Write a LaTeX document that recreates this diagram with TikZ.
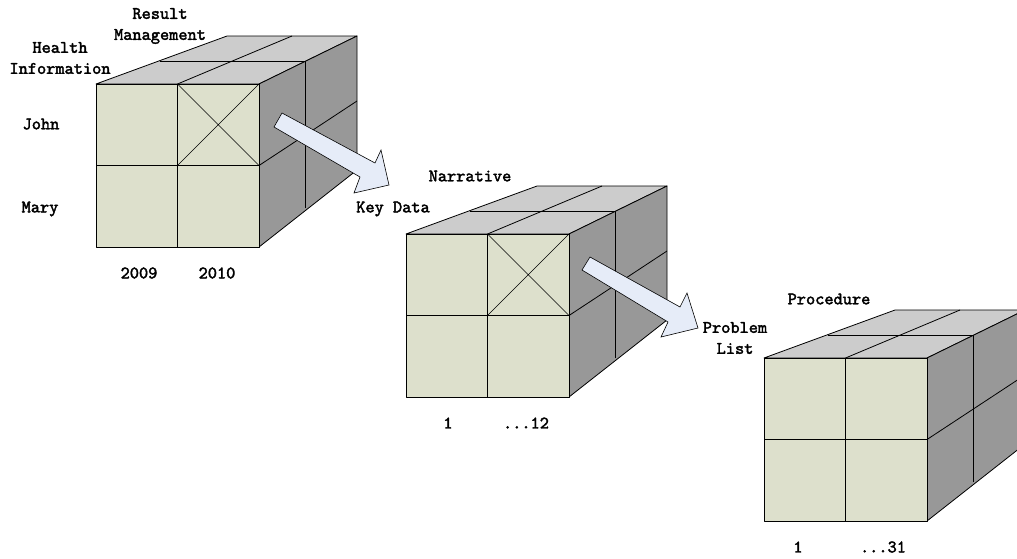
\documentclass[tikz,border=0pt]{standalone}
\usepackage{fontspec}
\newfontfamily\lblfont[FakeBold=2.2]{lmmono10-regular.otf}
\definecolor{frontc}{RGB}{221,224,204}
\definecolor{topc}{RGB}{204,204,204}
\definecolor{sidec}{RGB}{152,152,152}
\definecolor{arrowc}{RGB}{230,236,248}
\tikzset{
  edge/.style={draw=black,line width=0.8pt,line join=round},
  lbl/.style={font=\lblfont\fontsize{17.5}{21}\selectfont,inner sep=0pt,align=center},
  blockarrow/.style={fill=arrowc,draw=black,line width=0.6pt,line join=miter}
}
\newcommand\mycube[3]{%
\begin{scope}[shift={(#1,#2)}]
  \filldraw[edge,fill=topc] (0,0) -- (163,0) -- (261,-48) -- (131,-48) -- cycle;
  \filldraw[edge,fill=sidec] (163,0) -- (163,163) -- (261,86) -- (261,-48) -- cycle;
  \filldraw[edge,fill=frontc] (0,0) rectangle (163,163);
  \draw[edge] (64,-23) -- (209,-23);
  \draw[edge] (81.5,0) -- (196,-48);
  \draw[edge] (209,-23) -- (209,124);
  \draw[edge] (163,81.5) -- (261,17);
  \draw[edge] (81.5,0) -- (81.5,163);
  \draw[edge] (0,81.5) -- (163,81.5);
  #3
\end{scope}}
\begin{document}
\begin{tikzpicture}[x=1pt,y=-1pt]
\useasboundingbox (0,0) rectangle (1017,558);
\clip (0,0) rectangle (1017,558);
\fill[white] (0,0) rectangle (1017,558);
% cubes
\mycube{96}{84}{\draw[edge,line width=0.6pt] (81.5,0) -- (163,81.5) (163,0) -- (81.5,81.5);}
\mycube{406}{234}{\draw[edge,line width=0.6pt] (81.5,0) -- (163,81.5) (163,0) -- (81.5,81.5);}
\mycube{764}{358}{}
% block arrows
\coordinate (a1t1) at (282,113);
\coordinate (a1t2) at (274,127);
\coordinate (a1tip) at (389,185);
\filldraw[blockarrow] (a1t1) -- (375,163) -- (381,150) -- (a1tip) -- (354,193) -- (360,177) -- (a1t2) -- cycle;
\coordinate (a2t1) at (590,257);
\coordinate (a2t2) at (582,270);
\coordinate (a2tip) at (698,328);
\filldraw[blockarrow] (a2t1) -- (680,307) -- (687,293) -- (a2tip) -- (661,337) -- (668,322) -- (a2t2) -- cycle;
% labels
\node[lbl] (result) at (160,26) {Result\\Management};
\node[lbl] (health) at (60,58) {Health\\Information};
\node[lbl] (john) at (41,124) {John};
\node[lbl] (mary) at (40,209) {Mary};
\node[lbl] (y2009) at (139,273) {2009};
\node[lbl] (y2010) at (217,273) {2010};
\node[lbl] (narr) at (470,176) {Narrative};
\node[lbl] (key) at (393,209) {Key Data};
\node[lbl] (one1) at (448,423) {1};
\node[lbl] (twelve) at (526,423) {...12};
\node[lbl] (proc) at (829,299) {Procedure};
\node[lbl] (prob) at (735,338) {Problem\\List};
\node[lbl] (one2) at (798,547) {1};
\node[lbl] (thirtyone) at (883,547) {...31};
\end{tikzpicture}
\end{document}
